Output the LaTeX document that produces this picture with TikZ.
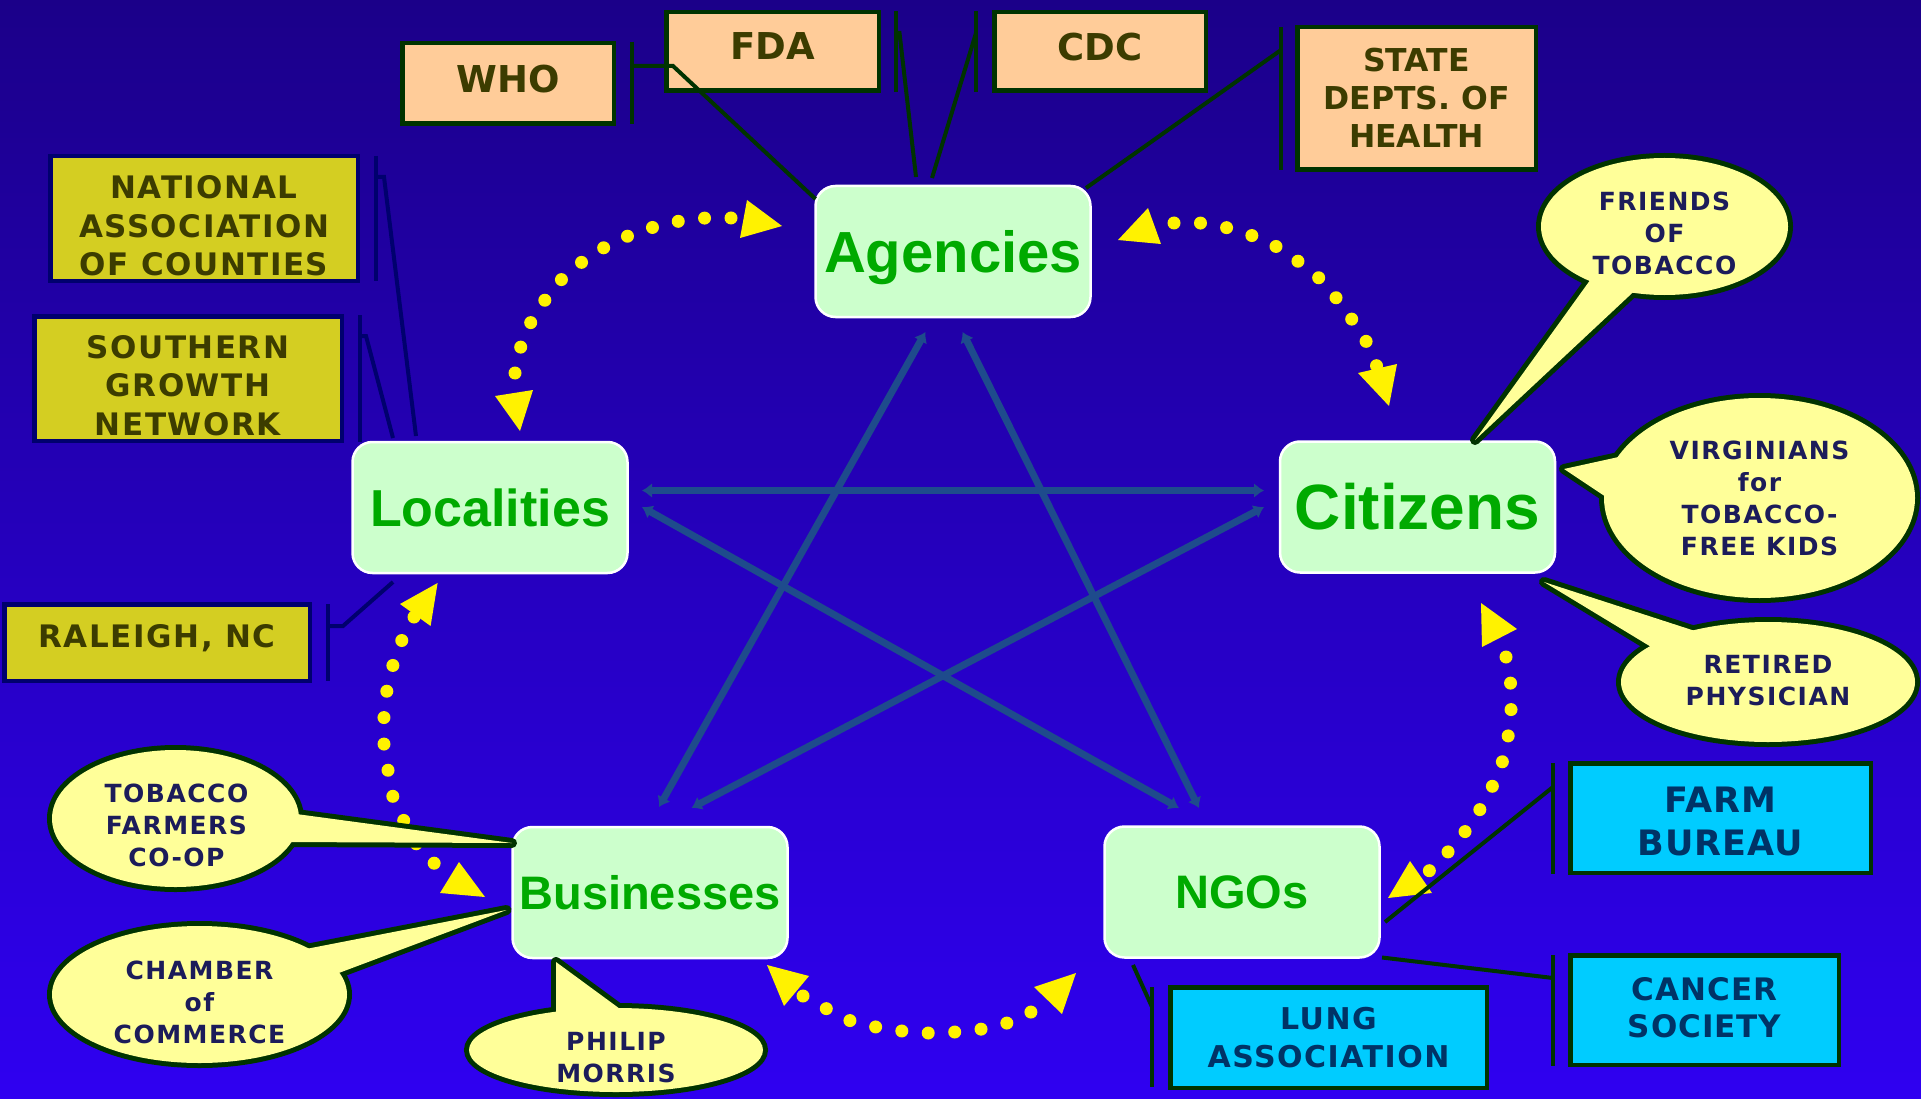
\documentclass[tikz,border=0pt]{standalone}
\usepackage{fontspec}
\setmainfont{Liberation Sans}
\newfontfamily\dvA{DejaVu Sans}
\newfontfamily\dvB[LetterSpace=5]{DejaVu Sans}
\newfontfamily\dvC[LetterSpace=3]{DejaVu Sans}
\newfontfamily\dvD[LetterSpace=6]{DejaVu Sans}
\usetikzlibrary{arrows.meta,shapes.geometric,calc}

\definecolor{bgtop}{RGB}{27,0,137}
\definecolor{bgbot}{RGB}{47,0,241}
\definecolor{mainfill}{RGB}{204,255,204}
\definecolor{maingreen}{RGB}{0,170,0}
\definecolor{dkgreen}{RGB}{0,51,0}
\definecolor{navyb}{RGB}{0,0,110}
\definecolor{peach}{RGB}{255,204,153}
\definecolor{olivefill}{RGB}{212,206,34}
\definecolor{olivetext}{RGB}{60,60,0}
\definecolor{cyanfill}{RGB}{0,204,255}
\definecolor{cyantext}{RGB}{0,51,102}
\definecolor{bubblefill}{RGB}{255,255,153}
\definecolor{bubbletext}{RGB}{28,28,90}
\definecolor{starline}{RGB}{30,75,140}

\tikzset{
 mainbox/.style={rectangle, rounded corners=20pt, draw=white, line width=2.5pt, fill=mainfill, minimum width=275pt, minimum height=131pt, inner sep=0pt, outer sep=0pt, text=maingreen, text depth=0pt},
 pbox/.style={rectangle, draw=dkgreen, line width=4.5pt, fill=peach, inner sep=0pt, outer sep=0pt},
 obox/.style={rectangle, draw=navyb, line width=4.5pt, fill=olivefill, inner sep=0pt, outer sep=0pt},
 cbox/.style={rectangle, draw=dkgreen, line width=4.5pt, fill=cyanfill, inner sep=0pt, outer sep=0pt},
 boxtext/.style={align=center, inner sep=0pt, text depth=0pt},
 ptext/.style={boxtext, text=olivetext},
 ctext/.style={boxtext, text=cyantext},
 bubble/.style={ellipse, draw=dkgreen, line width=10pt, fill=bubblefill, inner sep=0pt, outer sep=0pt},
 tailout/.style={draw=dkgreen, line width=10pt, fill=bubblefill, line join=round},
 bubbletxt/.style={align=center, inner sep=0pt, text depth=0pt, text=bubbletext, font=\dvD\bfseries\fontsize{25pt}{32pt}\selectfont},
 leaderg/.style={draw=dkgreen, line width=4pt},
 leadern/.style={draw=navyb, line width=4pt},
 dotline/.style={draw=yellow, line width=13pt, line cap=round, dash pattern=on 0pt off 26.5pt},
 arrowhd/.style={fill=yellow},
 starln/.style={draw=starline, line width=7pt, {Latex[length=10pt,width=15pt]}-{Latex[length=10pt,width=15pt]}},
}

\begin{document}
\begin{tikzpicture}[x=1pt,y=-1pt]
\useasboundingbox (0,0) rectangle (1921,1099);
\clip (0,0) rectangle (1921,1099);
\shade[top color=bgtop, bottom color=bgbot] (0,0) rectangle (1921,1099);

% star
\coordinate (s1a) at (925.5,332); \coordinate (s1b) at (659,807);
\coordinate (s2a) at (962.5,332); \coordinate (s2b) at (1199,808);
\coordinate (s3a) at (642,490.5); \coordinate (s3b) at (1264,490.5);
\coordinate (s4a) at (642,507); \coordinate (s4b) at (1179,808);
\coordinate (s5a) at (1264,507); \coordinate (s5b) at (691.5,808);
\draw[starln] (s1a) -- (s1b);
\draw[starln] (s2a) -- (s2b);
\draw[starln] (s3a) -- (s3b);
\draw[starln] (s4a) -- (s4b);
\draw[starln] (s5a) -- (s5b);

% main nodes
\node[mainbox, font=\bfseries\fontsize{58pt}{58pt}\selectfont, text height=41.5pt] (ag) at (953,251.5) {Agencies};
\node[mainbox, font=\bfseries\fontsize{52pt}{52pt}\selectfont, text height=37.2pt] (loc) at (490,507.5) {Localities};
\node[mainbox, font=\bfseries\fontsize{64pt}{64pt}\selectfont, text height=45.8pt] (cit) at (1417.5,507) {Citizens};
\node[mainbox, font=\bfseries\fontsize{47pt}{47pt}\selectfont, text height=33.7pt] (bus) at (650,892.5) {Businesses};
\node[mainbox, font=\bfseries\fontsize{47pt}{47pt}\selectfont, text height=33.7pt] (ngo) at (1242,892) {NGOs};

% dotted arcs
\draw[dotline] plot[smooth, tension=0.5] coordinates {(515,373) (521,346) (531,322) (545,300) (562,279) (582,262) (605,247) (628,236) (654,227) (680,221) (706,218) (733,218)};
\draw[dotline] plot[smooth, tension=0.5] coordinates {(1174,223) (1200,223) (1228,228) (1253,236) (1277,247) (1299,262) (1320,279) (1337,299) (1353,321) (1367,343) (1377,367)};
\draw[dotline] plot[smooth, tension=0.5] coordinates {(1506,657) (1510.5,683) (1511,710) (1508,737) (1502,763) (1492,787) (1479,811) (1464,833) (1447,853) (1428,872)};
\draw[dotline] plot[smooth, tension=0.5] coordinates {(803,996) (827,1009) (851,1021) (876,1027) (902,1031) (928,1033) (955,1032) (982,1029) (1007,1023) (1031,1012)};
\draw[dotline] plot[smooth, tension=0.5] coordinates {(414,617) (402,640) (393,665) (387,690) (384,717) (384,744) (388,770) (393,797) (404,821) (417,845) (435,864)};

% arrow heads
\fill[arrowhd] (747,200) -- (782,226) -- (740,238) -- cycle;
\fill[arrowhd] (495,396) -- (533,390) -- (520,431) -- cycle;
\fill[arrowhd] (1118,240) -- (1148,208) -- (1161,244) -- cycle;
\fill[arrowhd] (1358,373) -- (1397,364) -- (1389,406) -- cycle;
\fill[arrowhd] (1481,603) -- (1517,629) -- (1482,647) -- cycle;
\fill[arrowhd] (1410,861) -- (1388,898) -- (1432,893) -- cycle;
\fill[arrowhd] (1076,973) -- (1034,987) -- (1062,1014) -- cycle;
\fill[arrowhd] (767,965) -- (809,976) -- (784,1006) -- cycle;
\fill[arrowhd] (400,604) -- (437.6,583) -- (430.6,626) -- cycle;
\fill[arrowhd] (459,862) -- (440,893) -- (485,897) -- cycle;

% peach boxes
\node[pbox, minimum width=211.5pt, minimum height=80.5pt,
  label={[ptext, name=who-t, font=\dvA\bfseries\fontsize{37pt}{44pt}\selectfont, yshift=5pt]center:{WHO}}] (who) at (508,83.5) {};
\node[pbox, minimum width=212.5pt, minimum height=78.5pt,
  label={[ptext, name=fda-t, font=\dvA\bfseries\fontsize{37pt}{44pt}\selectfont, yshift=5pt]center:{FDA}}] (fda) at (772.5,51.5) {};
\node[pbox, minimum width=211.5pt, minimum height=78.5pt,
  label={[ptext, name=cdc-t, font=\dvA\bfseries\fontsize{37pt}{44pt}\selectfont, yshift=5pt]center:{CDC}}] (cdc) at (1100,51.5) {};
\node[pbox, minimum width=238.5pt, minimum height=142.5pt,
  label={[ptext, name=sdh-t, font=\dvA\bfseries\fontsize{31.5pt}{38pt}\selectfont, yshift=1pt]center:{STATE\\DEPTS. OF\\HEALTH}}] (sdh) at (1416.5,98.5) {};

% olive boxes
\node[obox, minimum width=307.5pt, minimum height=124.5pt,
  label={[ptext, name=nac-t, font=\dvB\bfseries\fontsize{31pt}{38.5pt}\selectfont, yshift=-7pt]center:{NATIONAL\\ASSOCIATION\\OF COUNTIES}}] (nac) at (204,218.5) {};
\node[obox, minimum width=307.5pt, minimum height=124.5pt,
  label={[ptext, name=sgn-t, font=\dvB\bfseries\fontsize{31pt}{38.5pt}\selectfont, yshift=-6.5pt]center:{SOUTHERN\\GROWTH\\NETWORK}}] (sgn) at (188,378.5) {};
\node[obox, minimum width=305.5pt, minimum height=76.5pt,
  label={[ptext, name=ral-t, font=\dvB\bfseries\fontsize{31pt}{38.5pt}\selectfont, yshift=6.5pt]center:{RALEIGH, NC}}] (ral) at (157,642.5) {};

% cyan boxes
\node[cbox, minimum width=300.5pt, minimum height=109.5pt,
  label={[ctext, name=farm-t, font=\dvC\bfseries\fontsize{35pt}{43pt}\selectfont, yshift=-3pt]center:{FARM\\BUREAU}}] (farm) at (1720.5,818) {};
\node[cbox, minimum width=268.5pt, minimum height=109.5pt,
  label={[ctext, name=can-t, font=\dvC\bfseries\fontsize{31pt}{37pt}\selectfont, yshift=3pt]center:{CANCER\\SOCIETY}}] (can) at (1704.5,1010) {};
\node[cbox, minimum width=316.5pt, minimum height=100.5pt,
  label={[ctext, name=lung-t, font=\dvB\bfseries\fontsize{30pt}{38pt}\selectfont]center:{LUNG\\ASSOCIATION}}] (lung) at (1328.5,1037.5) {};

% callout tips
\coordinate (fot-tip) at ([xshift=57.5pt,yshift=1.5pt]cit.north);
\coordinate (vir-tip) at ([xshift=9pt,yshift=38pt]cit.east);
\coordinate (ret-tip) at ([xshift=-11pt,yshift=-9.5pt]cit.south east);
\coordinate (tfc-tip) at ([xshift=-0.5pt,yshift=49.5pt]bus.west);
\coordinate (coc-tip) at ([xshift=-6pt,yshift=-17.5pt]bus.west);
\coordinate (pm-tip) at ([xshift=-94pt,yshift=-4pt]bus.south);

% callouts: outlines
\node[bubble, minimum width=247pt, minimum height=137pt] (fot) at (1664.5,226.5) {};
\draw[tailout] (1596.8,270.8) -- (fot-tip) -- (1641,284.8) -- cycle;
\node[bubble, minimum width=311pt, minimum height=200pt] (vir) at (1759.5,498) {};
\draw[tailout] (1628.6,454.8) -- (vir-tip) -- (1615.5,503.3) -- cycle;
\node[bubble, minimum width=294pt, minimum height=120pt] (ret) at (1768,682) {};
\draw[tailout] (1700,632.6) -- (ret-tip) -- (1660.8,652.8) -- cycle;
\node[bubble, minimum width=247pt, minimum height=137pt] (tfc) at (175.5,818.5) {};
\draw[tailout] (288.7,813) -- (tfc-tip) -- (281,842) -- cycle;
\node[bubble, minimum width=295pt, minimum height=137pt] (coc) at (199.5,994.5) {};
\draw[tailout] (301.3,949.9) -- (coc-tip) -- (330,976.3) -- cycle;
\node[bubble, minimum width=294pt, minimum height=84pt] (pm) at (616,1050) {};
\draw[tailout] (556,1023) -- (pm-tip) -- (624,1011.9) -- cycle;

% callouts: fills
\fill[bubblefill] (fot.center) ellipse [x radius=123.5pt, y radius=68.5pt];
\fill[bubblefill] (1596.8,270.8) -- (fot-tip) -- (1641,284.8) -- cycle;
\fill[bubblefill] (vir.center) ellipse [x radius=155.5pt, y radius=100pt];
\fill[bubblefill] (1628.6,454.8) -- (vir-tip) -- (1615.5,503.3) -- cycle;
\fill[bubblefill] (ret.center) ellipse [x radius=147pt, y radius=60pt];
\fill[bubblefill] (1700,632.6) -- (ret-tip) -- (1660.8,652.8) -- cycle;
\fill[bubblefill] (tfc.center) ellipse [x radius=123.5pt, y radius=68.5pt];
\fill[bubblefill] (288.7,813) -- (tfc-tip) -- (281,842) -- cycle;
\fill[bubblefill] (coc.center) ellipse [x radius=147.5pt, y radius=68.5pt];
\fill[bubblefill] (301.3,949.9) -- (coc-tip) -- (330,976.3) -- cycle;
\fill[bubblefill] (pm.center) ellipse [x radius=147pt, y radius=42pt];
\fill[bubblefill] (556,1023) -- (pm-tip) -- (624,1011.9) -- cycle;

% callout texts
\node[bubbletxt, yshift=-7pt] (fot-t) at (fot) {FRIENDS\\OF\\TOBACCO};
\node[bubbletxt] (vir-t) at (vir) {VIRGINIANS\\for\\TOBACCO-\\FREE KIDS};
\node[bubbletxt, yshift=2pt] (ret-t) at (ret) {RETIRED\\PHYSICIAN};
\node[bubbletxt, xshift=1pt, yshift=-6.5pt] (tfc-t) at (tfc) {TOBACCO\\FARMERS\\CO-OP};
\node[bubbletxt, yshift=-7.5pt] (coc-t) at (coc) {CHAMBER\\of\\COMMERCE};
\node[bubbletxt, yshift=-7pt] (pm-t) at (pm) {PHILIP\\MORRIS};

% accent bars and leaders: agencies
\draw[leaderg] (632,42) -- (632,124);
\draw[leaderg] (632,66) -- (673,66) -- ([yshift=-13pt]ag.north west);
\draw[leaderg] (896,11) -- (896,92);
\draw[leaderg] (896,33) -- (899.5,33) -- ([xshift=-37pt,yshift=9pt]ag.north);
\draw[leaderg] (976,11) -- (976,92);
\draw[leaderg] (976,33) -- ([xshift=-21pt,yshift=8pt]ag.north);
\draw[leaderg] (1281,27) -- (1281,170);
\draw[leaderg] (1281,50) -- ([xshift=-4.5pt,yshift=-2pt]ag.north east);

% localities
\draw[leadern] (375.5,156) -- (375.5,281);
\draw[leadern] (375.5,177) -- (384,177) -- ([xshift=-74pt,yshift=6pt]loc.north);
\draw[leadern] (360,315) -- (360,442);
\draw[leadern] (360,336) -- (366,336) -- ([xshift=-97pt,yshift=4pt]loc.north);
\draw[leadern] (328,604) -- (328,681);
\draw[leadern] (328,626) -- (343,626) -- ([xshift=-97pt,yshift=-9pt]loc.south);

% NGOs
\draw[leaderg] (1553,763) -- (1553,874);
\draw[leaderg] (1553,787) -- ([xshift=5.5pt,yshift=-30pt]ngo.east);
\draw[leaderg] (1553,955) -- (1553,1066);
\draw[leaderg] (1553,978) -- ([xshift=2.5pt]ngo.south east);
\draw[leaderg] (1152,987) -- (1152,1087);
\draw[leaderg] (1152,1007) -- ([xshift=-109pt,yshift=-7.5pt]ngo.south);
\end{tikzpicture}
\end{document}
